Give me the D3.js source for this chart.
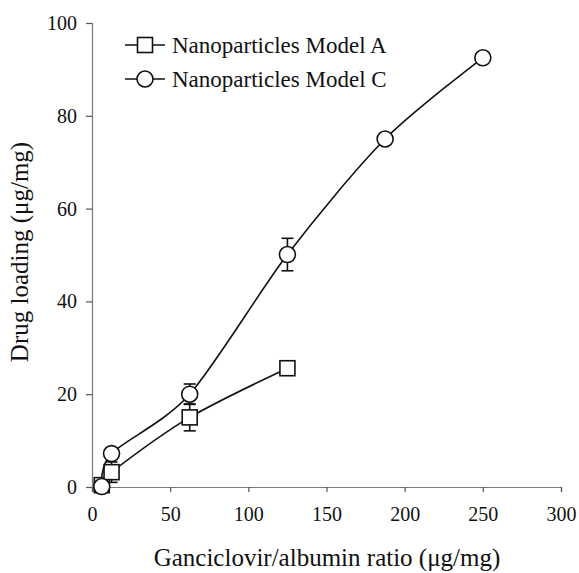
<!DOCTYPE html>
<html>
<head>
<meta charset="utf-8">
<script src="https://cdn.jsdelivr.net/npm/d3@7"></script>
<style>
  html, body { margin: 0; padding: 0; background: #fff; }
  svg { display: block; }
  text { font-family: "Liberation Serif", "Times New Roman", serif; fill: #111; }
</style>
</head>
<body>
<div id="chart"></div>
<script>
// data
const ratioA = [6.25, 12.5, 62.5, 125];
const loadingA = [0.4, 3.2, 15.0, 25.6];
const errA = [0, 2.2, 2.9, 0];

const ratioC = [6.25, 12.5, 62.5, 125, 187.5, 250];
const loadingC = [0.1, 7.2, 20.0, 50.1, 75.0, 92.5];
const errC = [0, 0, 2.2, 3.5, 0, 0];

const xTicks = [0, 50, 100, 150, 200, 250, 300];
const yTicks = [0, 20, 40, 60, 80, 100];
const seriesNames = ["Nanoparticles Model A", "Nanoparticles Model C"];

const W = 579, H = 573;
const margin = { top: 23, right: 18, bottom: 86, left: 92 };
const width = W - margin.left - margin.right;
const height = H - margin.top - margin.bottom;
const serif = "'Liberation Serif', 'Times New Roman', serif";

const svg = d3.select("#chart").append("svg")
    .attr("width", W)
    .attr("height", H);

const g = svg.append("g")
    .attr("transform", `translate(${margin.left},${margin.top})`);

const x = d3.scaleLinear().domain([0, 300]).range([0, width]);
const y = d3.scaleLinear().domain([0, 100]).range([height, 0]);

// axes
const xAxis = g.append("g")
    .attr("transform", `translate(0,${height})`)
    .call(d3.axisBottom(x).tickValues(xTicks).tickSize(5).tickPadding(15));
const yAxis = g.append("g")
    .call(d3.axisLeft(y).tickValues(yTicks).tickSize(6).tickPadding(9));

[xAxis, yAxis].forEach(a => {
    a.attr("font-family", serif);
    a.select(".domain").attr("stroke", "#7a7a7a").attr("stroke-width", 1.2);
    a.selectAll(".tick line").attr("stroke", "#555").attr("stroke-width", 1.2);
    a.selectAll(".tick text")
        .style("font-family", serif)
        .style("font-size", "20px")
        .attr("fill", "#111");
});

// axis titles
svg.append("text")
    .attr("x", 327)
    .attr("y", 566)
    .attr("text-anchor", "middle")
    .style("font-size", "25px")
    .text("Ganciclovir/albumin ratio (\u03bcg/mg)");

svg.append("text")
    .attr("transform", "translate(28,252) rotate(-90)")
    .attr("text-anchor", "middle")
    .style("font-size", "25px")
    .text("Drug loading (\u03bcg/mg)");

const line = d3.line()
    .x(d => x(d[0]))
    .y(d => y(d[1]))
    .curve(d3.curveCardinal.tension(0.15));

function drawSeries(xs, ys, es, shape) {
    const pts = xs.map((v, i) => [v, ys[i], es[i]]);
    g.append("path")
        .datum(pts)
        .attr("d", line)
        .attr("fill", "none")
        .attr("stroke", "#111")
        .attr("stroke-width", 1.6);

    const eb = g.append("g").attr("stroke", "#111").attr("stroke-width", 1.6);
    pts.filter(d => d[2] > 0).forEach(d => {
        const cx = x(d[0]);
        eb.append("line").attr("x1", cx).attr("x2", cx)
            .attr("y1", y(d[1] - d[2])).attr("y2", y(d[1] + d[2]));
        [d[1] - d[2], d[1] + d[2]].forEach(v => {
            eb.append("line").attr("x1", cx - 6).attr("x2", cx + 6)
                .attr("y1", y(v)).attr("y2", y(v));
        });
    });

    const m = g.append("g");
    pts.forEach(d => {
        if (shape === "square") {
            m.append("rect")
                .attr("x", x(d[0]) - 7.5).attr("y", y(d[1]) - 7.5)
                .attr("width", 15).attr("height", 15)
                .attr("fill", "#fff").attr("stroke", "#111").attr("stroke-width", 1.6);
        } else {
            m.append("circle")
                .attr("cx", x(d[0])).attr("cy", y(d[1])).attr("r", 8)
                .attr("fill", "#fff").attr("stroke", "#111").attr("stroke-width", 1.6);
        }
    });
}

drawSeries(ratioA, loadingA, errA, "square");
drawSeries(ratioC, loadingC, errC, "circle");

// legend
const legend = svg.append("g").attr("transform", "translate(125,45)");
seriesNames.forEach((name, i) => {
    const row = legend.append("g").attr("transform", `translate(0,${i * 34})`);
    row.append("line").attr("x1", 0).attr("x2", 40).attr("y1", 0).attr("y2", 0)
        .attr("stroke", "#111").attr("stroke-width", 1.6);
    if (i === 0) {
        row.append("rect").attr("x", 12.5).attr("y", -7.5).attr("width", 15).attr("height", 15)
            .attr("fill", "#fff").attr("stroke", "#111").attr("stroke-width", 1.6);
    } else {
        row.append("circle").attr("cx", 20).attr("cy", 0).attr("r", 8)
            .attr("fill", "#fff").attr("stroke", "#111").attr("stroke-width", 1.6);
    }
    row.append("text").attr("x", 47).attr("y", 8)
        .style("font-size", "23px")
        .text(name);
});
</script>
</body>
</html>
